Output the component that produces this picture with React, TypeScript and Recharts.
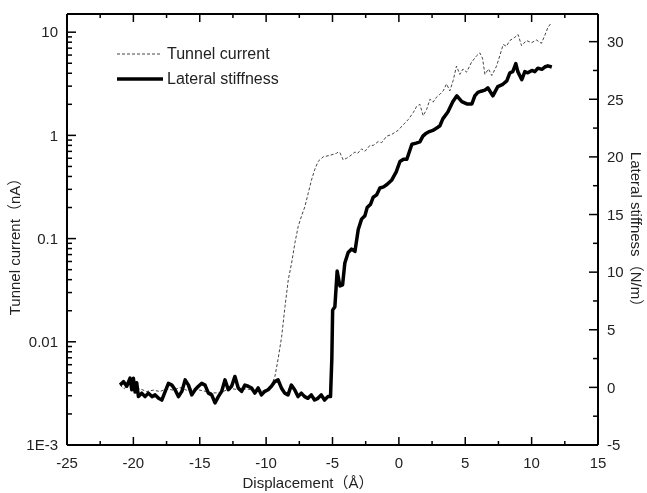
import React from "react";
import { ComposedChart, Line, XAxis, YAxis, Legend, Label, ReferenceLine } from "recharts";

// tunnel current (nA) vs displacement (Å)
const tunnelX = [
  -21.0, -20.7, -20.3, -20.0, -19.5, -19.0, -18.5, -18.0, -17.5, -17.0,
  -16.5, -16.0, -15.5, -15.0, -14.5, -14.0, -13.5, -13.0, -12.5, -12.0,
  -11.5, -11.0, -10.5, -10.0, -9.6, -9.34, -9.1, -8.83, -8.58, -8.33,
  -8.08, -7.83, -7.58, -7.33, -7.08, -6.83, -6.58, -6.33, -6.08, -5.7,
  -5.2, -4.7, -4.57, -4.44, -4.2, -3.94, -3.69, -3.31, -3.1, -2.81,
  -2.56, -2.18, -1.93, -1.56, -1.3, -0.93, -0.55, -0.05, 0.33, 0.7,
  1.08, 1.33, 1.58, 1.83, 2.09, 2.34, 2.58, 2.84, 3.09, 3.34,
  3.59, 3.84, 4.09, 4.34, 4.59, 4.84, 5.1, 5.47, 5.85, 6.1,
  6.3, 6.48, 6.75, 7.0, 7.36, 7.6, 7.86, 8.1, 8.36, 8.73,
  8.98, 9.24, 9.61, 9.99, 10.36, 10.74, 10.99, 11.24, 11.42,
];
const tunnelNA = [
  0.0038, 0.0035, 0.004, 0.0034, 0.0035, 0.0033, 0.0034, 0.0033, 0.0035, 0.0034,
  0.0036, 0.0034, 0.0035, 0.0034, 0.0033, 0.0032, 0.0032, 0.0034, 0.0035, 0.0034,
  0.0035, 0.0034, 0.0033, 0.0034, 0.0038, 0.0046, 0.0068, 0.0112, 0.0219, 0.04,
  0.058, 0.091, 0.132, 0.166, 0.204, 0.275, 0.37, 0.47, 0.56, 0.62,
  0.64, 0.67, 0.69, 0.68, 0.58, 0.6, 0.63, 0.69, 0.67, 0.74,
  0.7, 0.8, 0.8, 0.87, 0.85, 0.98, 1.02, 1.12, 1.27, 1.42,
  1.66, 1.9, 2.0, 1.55, 1.78, 2.24, 2.1, 2.35, 2.5, 2.7,
  3.15, 2.7, 3.4, 4.7, 3.9, 4.4, 4.1, 5.1, 5.9, 6.3,
  5.6, 3.9, 4.4, 3.8, 4.7, 5.9, 7.6, 7.3, 8.3, 8.9,
  9.5, 7.4, 8.3, 7.9, 8.4, 7.8, 9.3, 11.2, 12.0,
];

// lateral stiffness (N/m) vs displacement (Å)
const stiffX = [
  -21.0, -20.75, -20.5, -20.25, -20.12, -20.0, -19.87, -19.75, -19.62,
  -19.37, -19.12, -18.87, -18.6, -18.36, -18.1, -17.86, -17.6, -17.36, -17.1,
  -16.86, -16.6, -16.35, -16.1, -15.85, -15.6, -15.35, -15.1, -14.85, -14.6,
  -14.35, -14.1, -13.85, -13.6, -13.35, -13.1, -12.85, -12.6, -12.35, -12.1,
  -11.85, -11.6, -11.35, -11.1, -10.85, -10.6, -10.35, -10.1, -9.85, -9.6,
  -9.35, -9.1, -8.85, -8.6, -8.35, -8.1, -7.85, -7.6, -7.35, -7.1,
  -6.85, -6.6, -6.35, -6.1, -5.85, -5.6, -5.35,
  -5.15, -5.05, -4.99, -4.82, -4.65, -4.44, -4.24, -4.07, -3.82, -3.56,
  -3.31, -3.06, -2.81, -2.56, -2.39, -2.13, -1.93, -1.68, -1.43, -1.15,
  -0.9, -0.53, -0.2, 0.08, 0.35, 0.6, 0.98, 1.3, 1.58, 1.81,
  2.0, 2.3, 2.56, 2.85, 3.09, 3.31, 3.69, 4.07, 4.37, 4.74,
  5.12, 5.5, 5.72, 5.95, 6.2, 6.48, 6.7, 7.08, 7.45, 7.83,
  8.13, 8.36, 8.58, 8.81, 8.96, 9.26, 9.49, 9.71, 10.02, 10.24,
  10.47, 10.77, 10.99, 11.22, 11.52,
];
const stiffNm = [
  0.2, 0.5, 0.1, 0.8, -0.2, 0.8, -0.4, 0.4, -0.8,
  -0.5, -0.8, -0.5, -0.8, -0.65, -0.95, -1.1, -0.35, 0.35, 0.2,
  -0.2, -0.8, -0.35, 0.65, 0.2, -0.65, -0.2, 0.1, 0.35, 0.2,
  -0.5, -0.65, -1.35, -0.8, -0.35, 0.65, -0.2, 0.1, 0.95, -0.05,
  -0.35, 0.2, 0.1, -0.05, -0.5, -0.05, -0.65, -0.35, -0.2, 0.1,
  0.5, 0.65, -0.05, -0.5, -0.65, 0.2, -0.2, -0.8, -0.5, -0.8,
  -0.95, -0.65, -1.1, -0.95, -0.65, -1.1, -0.8,
  -0.8, 2.5, 6.7, 7.0, 10.1, 8.8, 8.9, 10.8, 11.7, 12.0,
  11.8, 13.7, 14.6, 14.9, 15.6, 15.9, 16.5, 16.7, 17.3, 17.4,
  17.6, 18.0, 18.7, 19.6, 19.8, 19.8, 21.1, 21.2, 21.3, 21.8,
  22.0, 22.2, 22.3, 22.5, 22.7, 23.3, 23.9, 24.8, 25.3, 24.8,
  24.6, 24.6, 25.3, 25.6, 25.7, 25.8, 26.0, 25.3, 26.1, 26.3,
  26.6, 27.3, 27.4, 28.1, 27.4, 26.7, 27.4, 27.3, 27.5, 27.4,
  27.7, 27.6, 27.8, 27.9, 27.8,
];

const xMajor = [-25, -20, -15, -10, -5, 0, 5, 10, 15];
const leftMajor = [0.001, 0.01, 0.1, 1, 10];
const leftLabels = ["1E-3", "0.01", "0.1", "1", "10"];
const rightMajor = [-5, 0, 5, 10, 15, 20, 25, 30];

// minor ticks halfway between the majors (linear) and 2..9 per decade (log)
const xTicks = xMajor.flatMap((v, i) => (i < xMajor.length - 1 ? [v, v + 2.5] : [v]));
const rightTicks = rightMajor.flatMap((v, i) => (i < rightMajor.length - 1 ? [v, v + 2.5] : [v]));
const leftTicks = leftMajor.flatMap((d, i) =>
  i < leftMajor.length - 1 ? [d, 2 * d, 3 * d, 4 * d, 5 * d, 6 * d, 7 * d, 8 * d, 9 * d] : [d]
);

const tunnelData = tunnelX.map((x, i) => ({ x, y: tunnelNA[i] }));
const stiffData = stiffX.map((x, i) => ({ x, y: stiffNm[i] }));

const FONT = "'Liberation Sans', Arial, Helvetica, sans-serif";
const CJK = "'Noto Sans CJK SC', sans-serif";
const TXT = "#222";
const X_MIN = -25;
const X_MAX = 15;
const R_MIN = -5;
const R_MAX = 32.4;

// plot box is 531 x 431 px; tick lengths in data units so they are drawn through the scales
const PX_X = (X_MAX - X_MIN) / 531;
const PX_R = (R_MAX - R_MIN) / 431;

const tickText = { fontSize: 15, fontFamily: FONT, fill: TXT };

const BottomLabel = (props: any) => (
  <text x={props.x} y={props.y + 18} dy="0.35em" textAnchor="middle" {...tickText}>
    {props.payload.value}
  </text>
);

const LeftLabel = (props: any) => (
  <text x={props.x - 9} y={props.y} dy="0.35em" textAnchor="end" {...tickText}>
    {leftLabels[leftMajor.indexOf(props.payload.value)]}
  </text>
);

const RightLabel = (props: any) => (
  <text x={props.x + 9} y={props.y} dy="0.35em" textAnchor="start" {...tickText}>
    {props.payload.value}
  </text>
);

// axis title, with the full-width brackets taken from a CJK font
const title = (name: string, unit: string, x: number, y: number, angle: number) => () =>
  (
    <text
      x={x}
      y={y}
      dy="0.35em"
      textAnchor="middle"
      transform={`rotate(${angle} ${x} ${y})`}
      {...tickText}
    >
      {name}
      <tspan fontFamily={CJK}>（</tspan>
      {unit}
      <tspan fontFamily={CJK}>）</tspan>
    </text>
  );

const LegendBox = () => (
  <div style={{ fontFamily: FONT, fontSize: 16, color: TXT, lineHeight: "25px" }}>
    <div style={{ display: "flex", alignItems: "center" }}>
      <svg width={46} height={10}>
        <line x1={0} x2={44} y1={5} y2={5} stroke="#444" strokeWidth={1} strokeDasharray="3 2" />
      </svg>
      <span style={{ marginLeft: 4 }}>Tunnel current</span>
    </div>
    <div style={{ display: "flex", alignItems: "center" }}>
      <svg width={46} height={10}>
        <line x1={0} x2={46} y1={5} y2={5} stroke="#000" strokeWidth={3.5} />
      </svg>
      <span style={{ marginLeft: 4 }}>Lateral stiffness</span>
    </div>
  </div>
);

const frame = { stroke: "#000", strokeWidth: 2, ifOverflow: "visible" as const };
const tick = { stroke: "#000", strokeWidth: 1.5, ifOverflow: "visible" as const };

export default function App() {
  return (
    <div style={{ position: "fixed", left: 0, top: 0 }}>
      <ComposedChart width={647} height={493} margin={{ top: 14, right: 0, bottom: 0, left: 0 }}>
        <XAxis
          type="number"
          dataKey="x"
          domain={[X_MIN, X_MAX]}
          ticks={xMajor}
          interval={0}
          allowDataOverflow
          height={48}
          tickSize={0}
          tickMargin={0}
          tickLine={false}
          tick={BottomLabel}
          axisLine={{ stroke: "#000", strokeWidth: 2 }}
        >
          <Label content={title("Displacement", "Å", 308, 483, 0)} />
        </XAxis>
        <YAxis
          yAxisId="left"
          scale="log"
          domain={[0.001, 15]}
          ticks={leftMajor}
          interval={0}
          allowDataOverflow
          width={67}
          tickSize={0}
          tickMargin={0}
          tickLine={false}
          tick={LeftLabel}
          axisLine={{ stroke: "#000", strokeWidth: 2 }}
        >
          <Label content={title("Tunnel current", "nA", 15, 243, -90)} />
        </YAxis>
        <YAxis
          yAxisId="right"
          orientation="right"
          type="number"
          domain={[R_MIN, R_MAX]}
          ticks={rightMajor}
          interval={0}
          allowDataOverflow
          width={49}
          tickSize={0}
          tickMargin={0}
          tickLine={false}
          tick={RightLabel}
          axisLine={{ stroke: "#000", strokeWidth: 2 }}
        >
          <Label content={title("Lateral stiffness", "N/m", 636, 233, 90)} />
        </YAxis>

        {/* frame top and bottom */}
        <ReferenceLine yAxisId="right" y={R_MAX} {...frame} />
        <ReferenceLine yAxisId="right" y={R_MIN} {...frame} />

        {/* inward tick marks on the four sides */}
        {xTicks.map((v) => {
          const len = (xMajor.includes(v) ? 8 : 4) * PX_R;
          return (
            <React.Fragment key={`x${v}`}>
              <ReferenceLine yAxisId="right" segment={[{ x: v, y: R_MIN }, { x: v, y: R_MIN + len }]} {...tick} />
              <ReferenceLine yAxisId="right" segment={[{ x: v, y: R_MAX }, { x: v, y: R_MAX - len }]} {...tick} />
            </React.Fragment>
          );
        })}
        {leftTicks.map((v) => (
          <ReferenceLine
            key={`l${v}`}
            yAxisId="left"
            segment={[{ x: X_MIN, y: v }, { x: X_MIN + (leftMajor.includes(v) ? 9 : 5) * PX_X, y: v }]}
            {...tick}
          />
        ))}
        {rightTicks.map((v) => (
          <ReferenceLine
            key={`r${v}`}
            yAxisId="right"
            segment={[{ x: X_MAX, y: v }, { x: X_MAX - (rightMajor.includes(v) ? 9 : 5) * PX_X, y: v }]}
            {...tick}
          />
        ))}

        <Legend
          layout="horizontal"
          verticalAlign="middle"
          align="center"
          content={<LegendBox />}
          wrapperStyle={{ left: 117, top: 41, width: 220 }}
        />
        <Line
          yAxisId="left"
          data={tunnelData}
          dataKey="y"
          name="Tunnel current"
          type="linear"
          stroke="#444"
          strokeWidth={1}
          strokeDasharray="3 2"
          dot={false}
          isAnimationActive={false}
        />
        <Line
          yAxisId="right"
          data={stiffData}
          dataKey="y"
          name="Lateral stiffness"
          type="linear"
          stroke="#000"
          strokeWidth={3.5}
          strokeLinejoin="round"
          dot={false}
          isAnimationActive={false}
        />
      </ComposedChart>
    </div>
  );
}
